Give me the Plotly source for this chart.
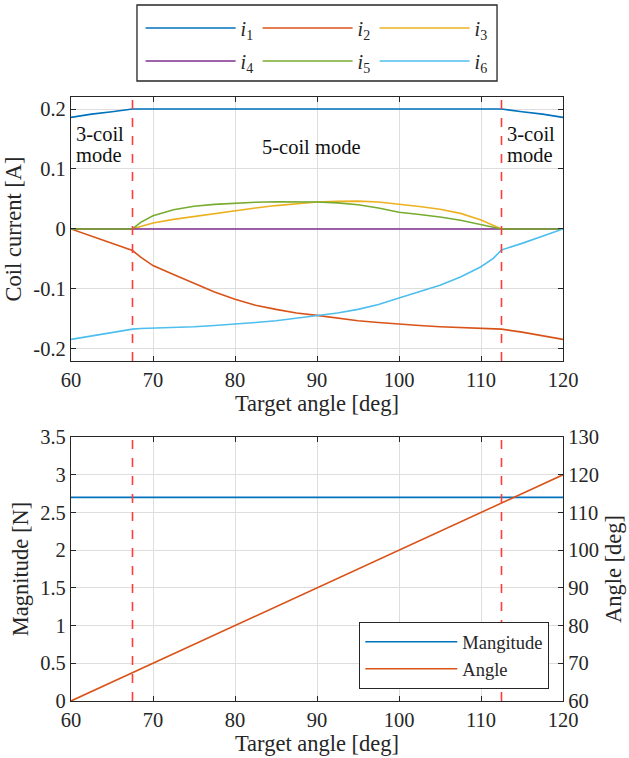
import plotly.graph_objects as go

# ---------------- data ----------------
target_angle = [60, 62.5, 65, 67.5, 68.5, 70, 72.5, 75, 77.5, 80, 82.5, 85, 87.5, 90,
                92.5, 95, 97.5, 100, 102.5, 105, 107.5, 110, 111.5, 112.5, 115, 117.5, 120]

i1 = [0.186, 0.1915, 0.1955, 0.200, 0.200, 0.200, 0.200, 0.200, 0.200, 0.200, 0.200, 0.200, 0.200, 0.200,
      0.200, 0.200, 0.200, 0.200, 0.200, 0.200, 0.200, 0.200, 0.200, 0.200, 0.1955, 0.1915, 0.186]
i2 = [0.000, -0.012, -0.024, -0.036, -0.047, -0.061, -0.076, -0.091, -0.105, -0.117, -0.127, -0.134, -0.140, -0.144,
      -0.149, -0.153, -0.156, -0.159, -0.161, -0.163, -0.164, -0.1655, -0.166, -0.167, -0.172, -0.178, -0.184]
i3 = [0.0, 0.0, 0.0, 0.0, 0.004, 0.010, 0.016, 0.021, 0.026, 0.031, 0.035, 0.039, 0.042, 0.045,
      0.046, 0.0465, 0.045, 0.0415, 0.0375, 0.033, 0.026, 0.015, 0.0065, 0.0, 0.0, 0.0, 0.0]
i4 = [0.0, 0.0, 0.0, 0.0, 0.0, 0.0, 0.0, 0.0, 0.0, 0.0, 0.0, 0.0, 0.0, 0.0,
      0.0, 0.0, 0.0, 0.0, 0.0, 0.0, 0.0, 0.0, 0.0, 0.0, 0.0, 0.0, 0.0]
i5 = [0.0, 0.0, 0.0, 0.0, 0.011, 0.022, 0.032, 0.038, 0.041, 0.043, 0.0445, 0.0455, 0.0455, 0.045,
      0.0435, 0.0405, 0.035, 0.028, 0.024, 0.020, 0.0145, 0.0075, 0.003, 0.0, 0.0, 0.0, 0.0]
i6 = [-0.184, -0.178, -0.172, -0.167, -0.166, -0.1655, -0.164, -0.163, -0.161, -0.159, -0.156, -0.153, -0.149, -0.144,
      -0.140, -0.134, -0.126, -0.115, -0.105, -0.094, -0.080, -0.063, -0.049, -0.035, -0.024, -0.012, 0.000]

angle_x = [60, 120]
magnitude = [2.7, 2.7]
angle_out = [60, 120]

mode_bounds = [67.5, 112.5]

current_names = ["<i>i</i><sub>1</sub>", "<i>i</i><sub>2</sub>", "<i>i</i><sub>3</sub>",
                 "<i>i</i><sub>4</sub>", "<i>i</i><sub>5</sub>", "<i>i</i><sub>6</sub>"]
currents = [i1, i2, i3, i4, i5, i6]
colors = ["#0072BD", "#D95319", "#EDB120", "#7E2F8E", "#77AC30", "#4DBEEE"]
legend_rows = ["legend", "legend", "legend", "legend3", "legend3", "legend3"]

FONT = "Liberation Serif"
AX = "#262626"
GRID = "#DEDEDE"

fig = go.Figure()

for name, ys, c, lg in zip(current_names, currents, colors, legend_rows):
    fig.add_trace(go.Scatter(x=target_angle, y=ys, mode="lines", name=name,
                             line=dict(color=c, width=1.6), xaxis="x", yaxis="y",
                             legend=lg))

fig.add_trace(go.Scatter(x=angle_x, y=magnitude, mode="lines", name="Mangitude",
                         line=dict(color=colors[0], width=1.6), xaxis="x2", yaxis="y2",
                         legend="legend2"))
fig.add_trace(go.Scatter(x=angle_x, y=angle_out, mode="lines", name="Angle",
                         line=dict(color=colors[1], width=1.6), xaxis="x2", yaxis="y3",
                         legend="legend2"))

for b in mode_bounds:
    for xr, yr in (("x", "y domain"), ("x2", "y2 domain")):
        fig.add_shape(type="line", x0=b, x1=b, y0=0, y1=1, xref=xr, yref=yr,
                      line=dict(color="#FF3B3B", width=1.6, dash="dash"), layer="above")

# box around the two-row current legend
fig.add_shape(type="rect", xref="paper", yref="paper", x0=0.1341, x1=0.8659, y0=1.0265, y1=1.1523,
              line=dict(color=AX, width=1.3), fillcolor="rgba(0,0,0,0)")

ann_font = dict(family=FONT, size=20.5, color="#111111")
for txt, xv, yv in (("3-coil", 60.45, 0.159), ("mode", 60.45, 0.123),
                    ("3-coil", 113.05, 0.159), ("mode", 113.05, 0.123)):
    fig.add_annotation(x=xv, y=yv, xref="x", yref="y", text=txt, showarrow=False,
                       xanchor="left", yanchor="middle", font=ann_font, borderpad=0)
fig.add_annotation(x=89.3, y=0.137, xref="x", yref="y", text="5-coil mode", showarrow=False,
                   xanchor="center", yanchor="middle", font=ann_font)

tickfont = dict(family=FONT, size=20.5, color=AX)
titlefont = dict(family=FONT, size=22.5, color=AX)
common_x = dict(range=[60, 120], tickvals=[60, 70, 80, 90, 100, 110, 120], showline=True,
                linecolor=AX, linewidth=1.2, mirror="ticks", ticks="inside", ticklen=5,
                tickcolor=AX, showgrid=True, gridcolor=GRID, gridwidth=1, zeroline=False,
                automargin=False,
                tickfont=tickfont, title=dict(text="Target angle [deg]", font=titlefont, standoff=2))

leg_common = dict(orientation="h", xanchor="left", yanchor="middle", x=0.1415,
                  borderwidth=0, bgcolor="rgba(0,0,0,0)",
                  font=dict(family=FONT, size=20, color=AX), entrywidth=12, itemwidth=90)

fig.update_layout(
    width=629, height=758,
    margin=dict(l=71, r=66, t=97, b=57, autoexpand=False),
    paper_bgcolor="white", plot_bgcolor="white",
    font=dict(family=FONT, color=AX),
    xaxis=dict(domain=[0, 1], anchor="y", **common_x),
    yaxis=dict(domain=[0.563, 1], anchor="x", range=[-0.22, 0.22],
               tickvals=[-0.2, -0.1, 0, 0.1, 0.2], ticktext=["-0.2", "-0.1", "0", "0.1", "0.2"],
               showline=True, linecolor=AX, linewidth=1.2, mirror="ticks", ticks="inside",
               ticklen=5, tickcolor=AX, showgrid=True, gridcolor=GRID, zeroline=False,
               automargin=False,
               tickfont=tickfont, title=dict(text="Coil current [A]", font=titlefont, standoff=5)),
    xaxis2=dict(domain=[0, 1], anchor="y2", **common_x),
    yaxis2=dict(domain=[0, 0.437], anchor="x2", range=[0, 3.5],
                tickvals=[0, 0.5, 1, 1.5, 2, 2.5, 3, 3.5],
                ticktext=["0", "0.5", "1", "1.5", "2", "2.5", "3", "3.5"],
                showline=True, linecolor=AX, linewidth=1.2, mirror=False, ticks="inside",
                ticklen=5, tickcolor=AX, showgrid=True, gridcolor=GRID, zeroline=False,
                automargin=False,
                tickfont=tickfont, title=dict(text="Magnitude [N]", font=titlefont, standoff=5)),
    yaxis3=dict(overlaying="y2", side="right", anchor="x2", range=[60, 130],
                tickvals=[60, 70, 80, 90, 100, 110, 120, 130],
                showline=True, linecolor=AX, linewidth=1.2, ticks="inside", ticklen=5,
                tickcolor=AX, showgrid=False, zeroline=False, tickfont=tickfont,
                automargin=False,
                title=dict(text="Angle [deg]", font=titlefont, standoff=7)),
    legend=dict(y=1.1142, **leg_common),
    legend3=dict(y=1.0596, **leg_common),
    legend2=dict(x=0.9715, xanchor="right", y=0.02, yanchor="bottom",
                 bordercolor=AX, borderwidth=1.3, bgcolor="white",
                 font=dict(family=FONT, size=18.5, color=AX), itemwidth=92,
                 tracegroupgap=0),
    showlegend=True,
)

fig.write_html("out.html", config={"displayModeBar": False},
               post_script="document.body.style.margin='0';document.body.style.overflow='hidden';")
